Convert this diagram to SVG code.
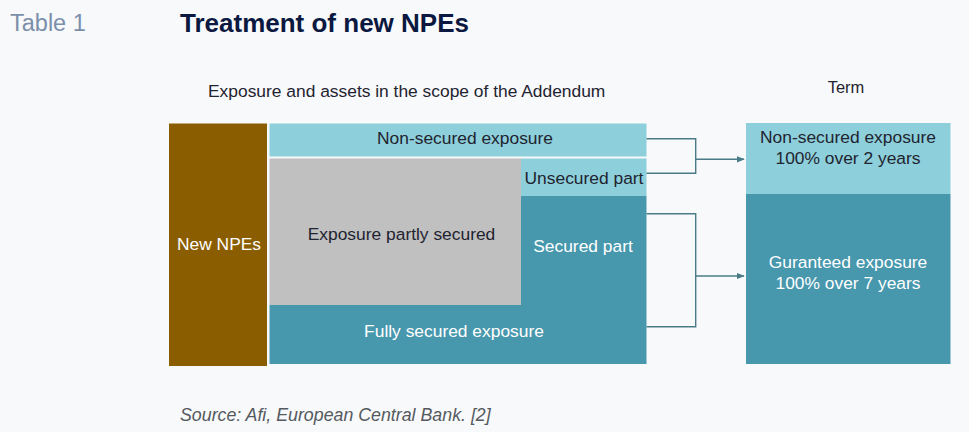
<svg xmlns="http://www.w3.org/2000/svg" width="969" height="432" viewBox="0 0 969 432">
<defs>
<style>
text{font-family:"Liberation Sans",Arial,sans-serif;}
.lbl{font-size:17.4px;text-anchor:middle;dominant-baseline:central;}
.dk{fill:#1f2430;}
.wh{fill:#ffffff;}
.conn{fill:none;stroke:#4a7c88;stroke-width:1.4;}
</style>
<marker id="arr" viewBox="0 0 10 10" refX="9" refY="5" markerWidth="8" markerHeight="8" orient="auto" markerUnits="userSpaceOnUse">
<path d="M0,1 L10,5 L0,9 z" fill="#4a7c88"/>
</marker>
</defs>
<rect width="969" height="432" fill="#f8f9fb"/>
<text x="10" y="31" font-size="23.5" fill="#7b8faa">Table 1</text>
<text x="180" y="32" font-size="26" font-weight="bold" fill="#0b1840">Treatment of new NPEs</text>
<text x="208" y="97" font-size="17.4" fill="#1f2430">Exposure and assets in the scope of the Addendum</text>
<text x="846" y="93" font-size="16.5" fill="#1f2430" text-anchor="middle">Term</text>

<g id="new-npes">
<rect x="169" y="123.5" width="98" height="242.5" fill="#8a5e00"/>
<text class="lbl wh" x="219" y="244">New NPEs</text>
</g>
<g id="non-secured">
<rect x="269.5" y="123.5" width="377" height="33" fill="#8dcfda"/>
<text class="lbl dk" x="465" y="138">Non-secured exposure</text>
</g>
<g id="partly-secured">
<rect x="269.5" y="158.5" width="251.5" height="146.5" fill="#c0c0c0"/>
<text class="lbl dk" x="401.5" y="234">Exposure partly secured</text>
</g>
<g id="unsecured-part">
<rect x="521" y="158.5" width="125.5" height="37.5" fill="#8dcfda"/>
<text class="lbl dk" x="584" y="178">Unsecured part</text>
</g>
<g id="secured-part">
<rect x="521" y="196" width="125.5" height="109" fill="#4797ad"/>
<text class="lbl wh" x="583" y="246">Secured part</text>
</g>
<g id="fully-secured">
<rect x="269.5" y="305" width="377" height="59" fill="#4797ad"/>
<text class="lbl wh" x="454" y="331">Fully secured exposure</text>
</g>
<g id="term-non-secured">
<rect x="746" y="123" width="204.5" height="71" fill="#8dcfda"/>
<text class="lbl dk" x="848" y="137">Non-secured exposure</text>
<text class="lbl dk" x="848" y="158">100% over 2 years</text>
</g>
<g id="term-guaranteed">
<rect x="746" y="194" width="204.5" height="170" fill="#4797ad"/>
<text class="lbl wh" x="848" y="262">Guranteed exposure</text>
<text class="lbl wh" x="848" y="283">100% over 7 years</text>
</g>
<g id="connectors">
<path class="conn" d="M646.5,138.7 H695.7 V173.3 H646.5"/>
<path class="conn" d="M695.7,159.3 H744" marker-end="url(#arr)"/>
<path class="conn" d="M646.5,213.7 H695.7 V326.7 H646.5"/>
<path class="conn" d="M695.7,276 H744" marker-end="url(#arr)"/>
</g>
<text x="180" y="421" font-size="17.8" font-style="italic" fill="#555a60">Source: Afi, European Central Bank. [2]</text>
</svg>
